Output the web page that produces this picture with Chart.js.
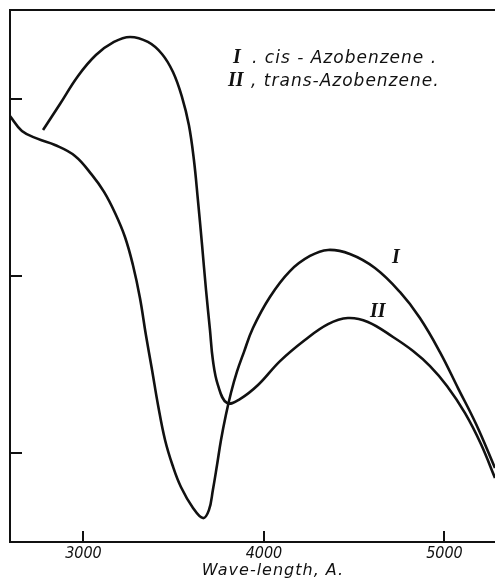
<!DOCTYPE html>
<html>
<head>
<meta charset="utf-8">
<script src="https://cdn.jsdelivr.net/npm/chart.js@4.4.1/dist/chart.umd.min.js"></script>
<style>
  html, body { margin: 0; padding: 0; background: #fff; }
</style>
</head>
<body>
<canvas id="chart" width="495" height="586"></canvas>
<script>
// Absorption curves of the two azobenzene isomers.
// x = wave-length in Angstrom, y = absorption (arbitrary units, axis is unlabelled)

// I, cis-Azobenzene
const cisWave = [2593, 2659, 2748, 2842, 2953, 3047, 3114, 3175, 3230, 3274, 3313, 3346, 3380, 3413,
  3452, 3493, 3540, 3607, 3662, 3695, 3717, 3740, 3762, 3789, 3817, 3850, 3889, 3939, 4033, 4144,
  4255, 4355, 4476, 4615, 4753, 4864, 4975, 5075, 5175, 5280];
const cisValue = [2.902, 2.818, 2.773, 2.739, 2.677, 2.570, 2.474, 2.355, 2.220, 2.062, 1.876, 1.667, 1.470, 1.273,
  1.075, 0.934, 0.810, 0.692, 0.635, 0.680, 0.793, 0.934, 1.075, 1.216, 1.340, 1.459, 1.571, 1.707, 1.882, 2.028,
  2.113, 2.147, 2.124, 2.045, 1.910, 1.763, 1.571, 1.368, 1.165, 0.917];

// II, trans-Azobenzene
const transWave = [2776, 2870, 2970, 3069, 3169, 3258, 3357, 3435, 3496, 3546, 3584, 3612, 3634, 3657, 3679,
  3701, 3717, 3745, 3795, 3867, 3967, 4089, 4227, 4355, 4465, 4576, 4715, 4826, 4920, 5014, 5114, 5202, 5280];
const transValue = [2.823, 2.970, 3.128, 3.246, 3.320, 3.348, 3.320, 3.252, 3.150, 3.009, 2.851, 2.654, 2.429, 2.175, 1.921,
  1.695, 1.526, 1.385, 1.284, 1.306, 1.385, 1.520, 1.639, 1.729, 1.763, 1.741, 1.656, 1.577, 1.492, 1.380, 1.227, 1.053, 0.861];

const xTicks = [3000, 4000, 5000];
const yTicks = [1, 2, 3];
const xRange = [2593, 5280];
const yRange = [0.5, 3.5];

const ink = '#111';
const sansItalic = (size) => `italic ${size}px "DejaVu Sans", sans-serif`;
const serifItalic = (size) => `italic bold ${size}px "Liberation Serif", serif`;

const toPoints = (xs, ys) => xs.map((x, i) => ({ x, y: ys[i] }));

// Frame, inward tick marks and hand-lettered texts of the figure
const figureDecor = {
  id: 'figureDecor',
  afterDraw(chart) {
    const { ctx, chartArea: area, scales: { x, y } } = chart;
    ctx.save();
    ctx.strokeStyle = ink;
    ctx.fillStyle = ink;
    ctx.lineWidth = 2;

    // left and top border
    ctx.beginPath();
    ctx.moveTo(area.left, area.bottom);
    ctx.lineTo(area.left, area.top);
    ctx.lineTo(area.right, area.top);
    ctx.stroke();

    // ticks pointing into the plot
    ctx.beginPath();
    xTicks.forEach(v => {
      const px = Math.round(x.getPixelForValue(v));
      ctx.moveTo(px, area.bottom);
      ctx.lineTo(px, area.bottom - 11);
    });
    yTicks.forEach(v => {
      const py = Math.round(y.getPixelForValue(v));
      ctx.moveTo(area.left, py);
      ctx.lineTo(area.left + 12, py);
    });
    ctx.stroke();

    // axis title
    ctx.font = sansItalic(16);
    ctx.letterSpacing = '1px';
    ctx.textAlign = 'center';
    ctx.textBaseline = 'alphabetic';
    ctx.fillText('Wave-length, A.', x.getPixelForValue(4050), 575);

    // key
    ctx.textAlign = 'left';
    ctx.font = serifItalic(20);
    ctx.letterSpacing = '0px';
    ctx.fillText('I', 233, 63);
    ctx.fillText('II', 228, 86);
    ctx.font = sansItalic(17);
    ctx.letterSpacing = '1px';
    ctx.fillText('. cis - Azobenzene .', 252, 63);
    ctx.fillText(', trans-Azobenzene.', 251, 86);

    // curve labels
    ctx.font = serifItalic(20);
    ctx.letterSpacing = '0px';
    ctx.textAlign = 'center';
    ctx.textBaseline = 'middle';
    ctx.fillText('I', x.getPixelForValue(4731), y.getPixelForValue(2.10));
    ctx.fillText('II', x.getPixelForValue(4631), y.getPixelForValue(1.80));
    ctx.restore();
  }
};

new Chart(document.getElementById('chart'), {
  type: 'line',
  data: {
    datasets: [
      {
        label: 'I, cis-Azobenzene',
        data: toPoints(cisWave, cisValue),
        borderColor: ink,
        borderWidth: 2.6,
        pointRadius: 0,
        tension: 0.4,
        fill: false
      },
      {
        label: 'II, trans-Azobenzene',
        data: toPoints(transWave, transValue),
        borderColor: ink,
        borderWidth: 2.6,
        pointRadius: 0,
        tension: 0.4,
        fill: false
      }
    ]
  },
  options: {
    responsive: false,
    animation: false,
    devicePixelRatio: 1,
    layout: { padding: { left: 10, top: 10, right: 0, bottom: 0 } },
    plugins: {
      legend: { display: false },
      tooltip: { enabled: false }
    },
    scales: {
      x: {
        type: 'linear',
        min: xRange[0],
        max: xRange[1],
        afterBuildTicks: scale => { scale.ticks = xTicks.map(value => ({ value })); },
        afterFit: scale => { scale.height = 44; },
        ticks: {
          callback: v => String(v),
          font: { family: '"DejaVu Sans Condensed", "DejaVu Sans", sans-serif', size: 16, style: 'italic' },
          color: ink,
          padding: 2,
          maxRotation: 0
        },
        grid: { display: false, drawTicks: false },
        border: { display: true, color: ink, width: 2 }
      },
      y: {
        display: false,
        min: yRange[0],
        max: yRange[1]
      }
    }
  },
  plugins: [figureDecor]
});
</script>
</body>
</html>
